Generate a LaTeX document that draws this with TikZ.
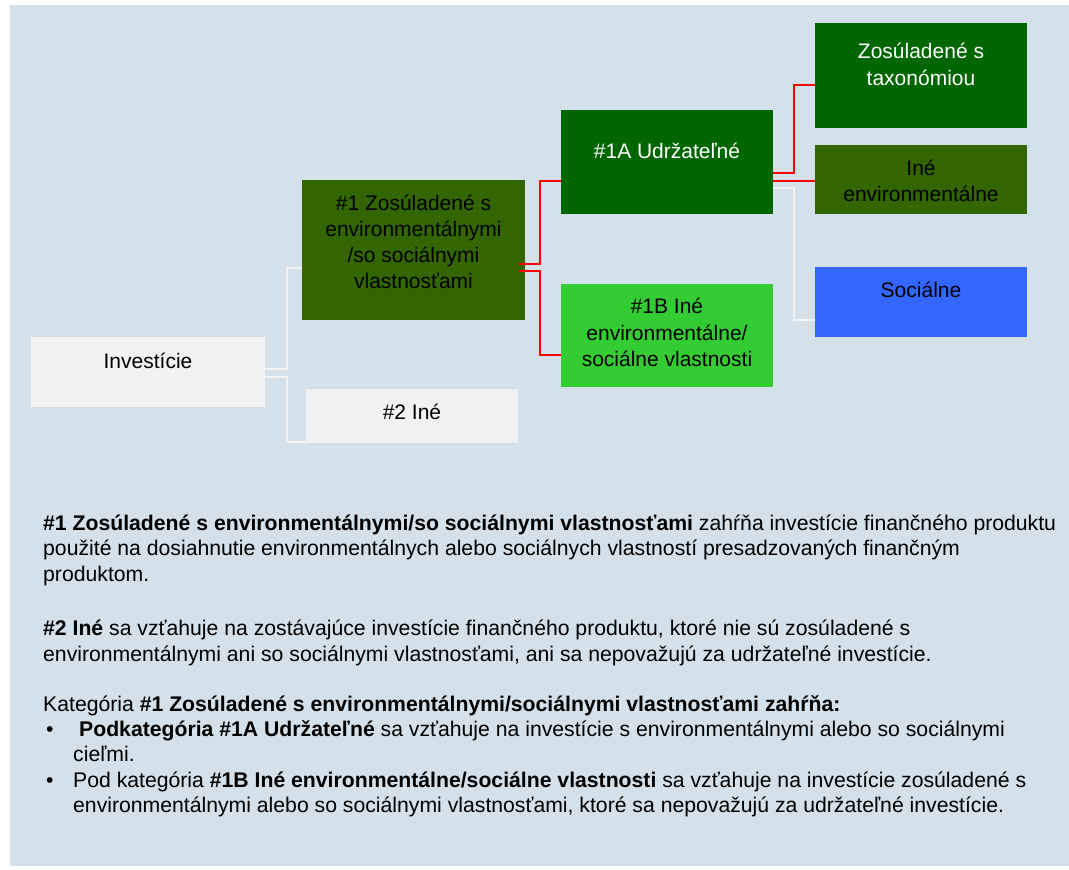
\documentclass[tikz,border=0pt]{standalone}
\usepackage{fontspec}
\setmainfont{Liberation Sans}
\usetikzlibrary{calc}
\definecolor{bgc}{HTML}{D4E1EA}
\definecolor{lightbox}{HTML}{F2F2F2}
\definecolor{dgreen}{HTML}{006600}
\definecolor{ogreen}{HTML}{336600}
\definecolor{bgreen}{HTML}{33CC33}
\definecolor{sblue}{HTML}{3366FF}
\definecolor{wline}{HTML}{F2F2F2}
\begin{document}
\begin{tikzpicture}[x=1pt,y=-1pt,
  box/.style={draw=none, inner sep=0pt, minimum width=212pt},
  lbl/.style={anchor=base, inner sep=0pt, font=\fontsize{21}{26}\selectfont},
  txt/.style={anchor=base west, inner sep=0pt, font=\fontsize{21.2}{26}\selectfont},
  redline/.style={draw=red, line width=1.5pt},
  whiteline/.style={draw=wline, line width=1.5pt}]
\useasboundingbox (0,0) rectangle (1069,870);
\fill[bgc] (10,5) rectangle (1069,866);
% boxes
\node[box, fill=lightbox, minimum width=234pt, minimum height=70pt] (inv) at (148,372) {};
\node[box, fill=ogreen, minimum width=223pt, minimum height=140pt] (n1) at (413.5,250) {};
\node[box, fill=lightbox, minimum height=54pt] (n2) at (412,416) {};
\node[box, fill=dgreen, minimum height=104pt] (n1A) at (667,162) {};
\node[box, fill=bgreen, minimum height=103pt] (n1B) at (667,335.5) {};
\node[box, fill=dgreen, minimum height=105pt] (tax) at (921,75.5) {};
\node[box, fill=ogreen, minimum height=69pt] (ine) at (921,179.5) {};
\node[box, fill=sblue, minimum height=70pt] (soc) at (921,302) {};
% connectors
\draw[whiteline] ($(inv.east)+(0,-3)$) -- ++(22,0) |- ($(n1.west)+(0,18)$);
\draw[whiteline] ($(inv.east)+(0,5)$) -- ++(22,0) |- ($(n2.west)+(0,26)$);
\draw[redline] ($(n1.east)+(-6,14)$) -- ++(21,0) |- ($(n1A.west)+(0,19)$);
\draw[redline] ($(n1.east)+(-6,21)$) -- ++(21,0) |- ($(n1B.west)+(0,19.5)$);
\draw[redline] ($(n1A.east)+(0,11)$) -- ++(21,0) |- ($(tax.west)+(0,9.5)$);
\draw[redline] ($(n1A.east)+(0,19)$) -- ($(ine.west)+(0,1.5)$);
\draw[whiteline] ($(n1A.east)+(0,26)$) -- ++(21,0) |- ($(soc.west)+(0,18)$);
% box labels
\node[lbl] (invt) at (148,368) {Investície};
\node[lbl] (n1t1) at (413.5,210) {\#1 Zosúladené s};
\node[lbl] (n1t2) at (413.5,236) {environmentálnymi};
\node[lbl] (n1t3) at (413.5,262) {/so sociálnymi};
\node[lbl] (n1t4) at (413.5,288) {vlastnosťami};
\node[lbl] (n2t) at (412,419) {\#2 Iné};
\node[lbl, text=white] (n1At) at (667,158) {\#1A Udržateľné};
\node[lbl] (n1Bt1) at (667,313) {\#1B Iné};
\node[lbl] (n1Bt2) at (667,340) {environmentálne/};
\node[lbl] (n1Bt3) at (667,366) {sociálne vlastnosti};
\node[lbl, text=white] (taxt1) at (921,58) {Zosúladené s};
\node[lbl, text=white] (taxt2) at (921,85) {taxonómiou};
\node[lbl] (inet1) at (921,175) {Iné};
\node[lbl] (inet2) at (921,201) {environmentálne};
\node[lbl] (soct) at (921,297) {Sociálne};
% body text
\node[txt] (b1) at (43,530) {\textbf{\#1 Zosúladené s environmentálnymi/so sociálnymi vlastnosťami} zahŕňa investície finančného produktu};
\node[txt] (b2) at (43,555.5) {použité na dosiahnutie environmentálnych alebo sociálnych vlastností presadzovaných finančným};
\node[txt] (b3) at (43,581) {produktom.};
\node[txt] (b4) at (43,635) {\textbf{\#2 Iné} sa vzťahuje na zostávajúce investície finančného produktu, ktoré nie sú zosúladené s};
\node[txt] (b5) at (43,661) {environmentálnymi ani so sociálnymi vlastnosťami, ani sa nepovažujú za udržateľné investície.};
\node[txt] (b6) at (43,711) {Kategória \textbf{\#1 Zosúladené s environmentálnymi/sociálnymi vlastnosťami zahŕňa:}};
\node[txt] (bul1) at (46,736) {•};
\node[txt] (b7) at (79,736) {\textbf{Podkategória \#1A Udržateľné} sa vzťahuje na investície s environmentálnymi alebo so sociálnymi};
\node[txt] (b8) at (73,761) {cieľmi.};
\node[txt] (bul2) at (46,787) {•};
\node[txt] (b9) at (73,787) {Pod kategória \textbf{\#1B Iné environmentálne/sociálne vlastnosti} sa vzťahuje na investície zosúladené s};
\node[txt] (b10) at (73,812) {environmentálnymi alebo so sociálnymi vlastnosťami, ktoré sa nepovažujú za udržateľné investície.};
\end{tikzpicture}
\end{document}
